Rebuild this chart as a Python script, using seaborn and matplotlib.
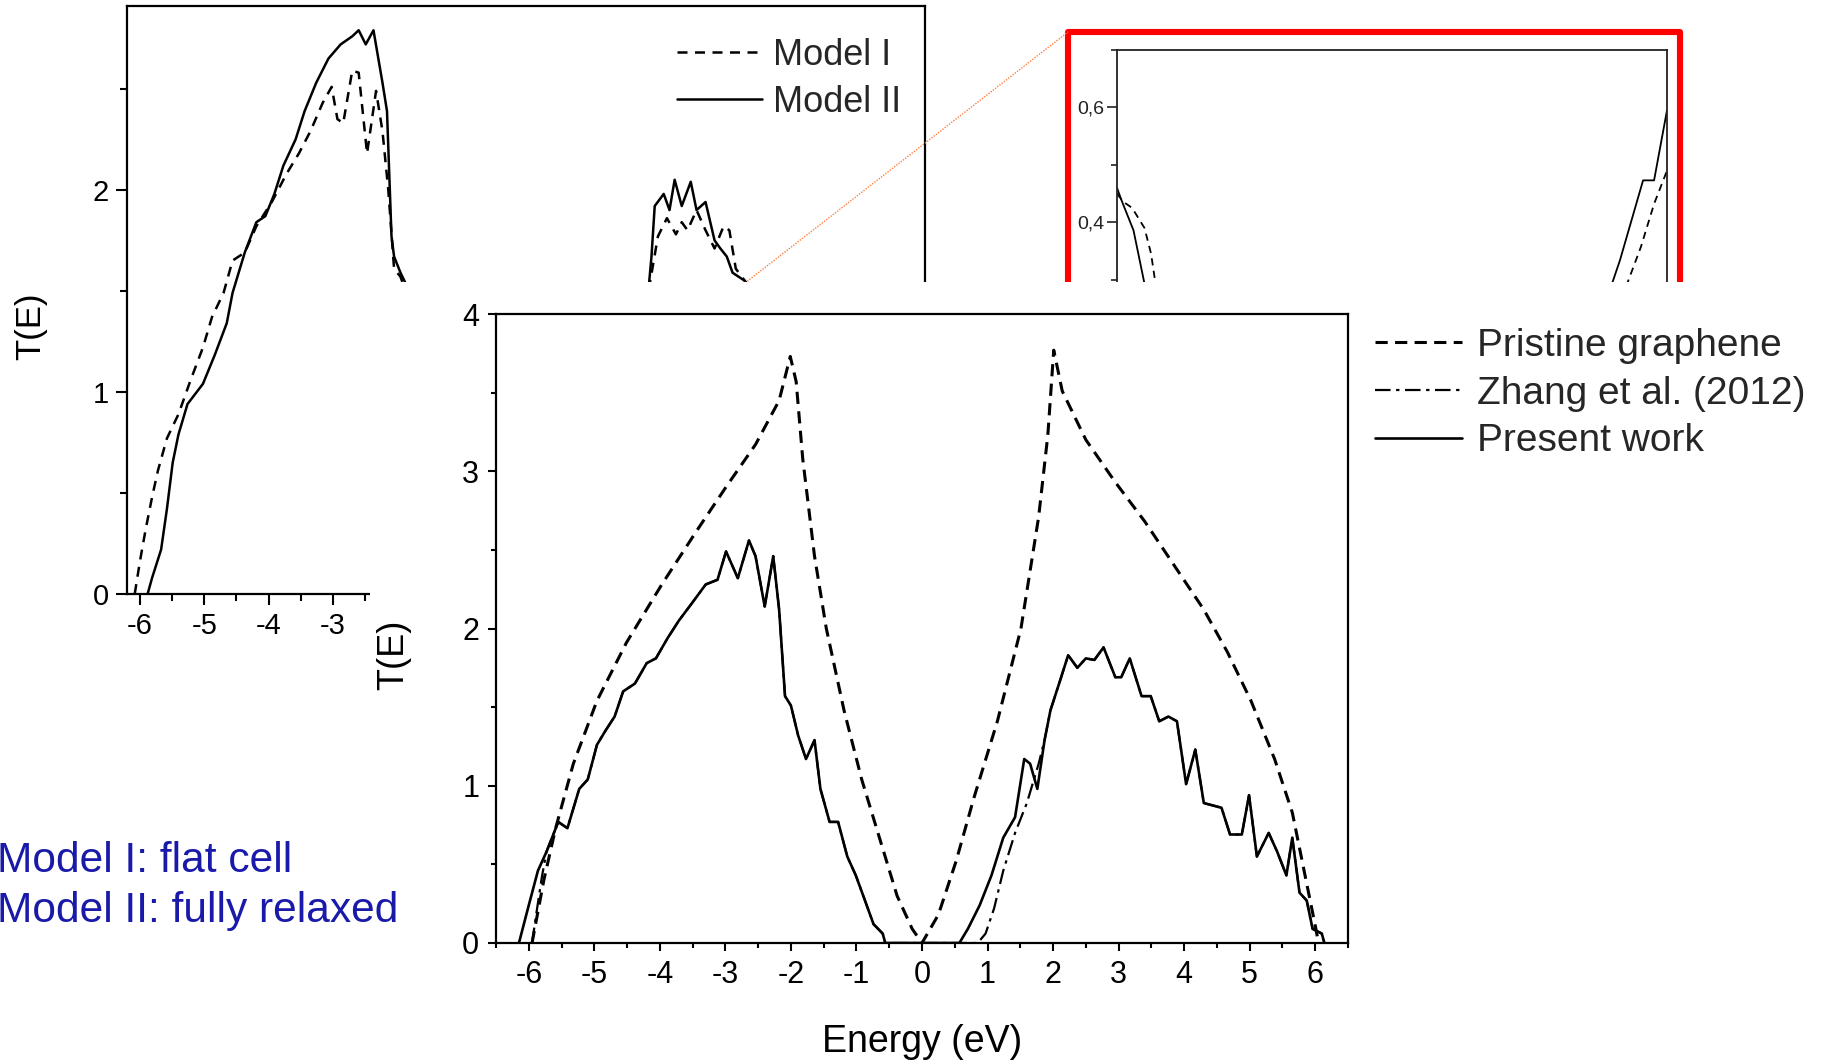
import numpy as np
import pandas as pd
import matplotlib
matplotlib.use("Agg")
import matplotlib.pyplot as plt
from matplotlib.patches import Rectangle
from matplotlib.lines import Line2D
from matplotlib.ticker import MultipleLocator, FuncFormatter
import seaborn as sns

# ---------------- data: front panel (main chart) ----------------
pristine_E = [-5.95, -5.77, -5.59, -5.32, -4.96, -4.51, -3.97, -3.44, -2.99, -2.54, -2.18, -2.01,
              -1.92, -1.82, -1.64, -1.46, -1.19, -0.92, -0.65, -0.38, -0.15, 0.0,
              0.25, 0.52, 0.79, 1.15, 1.51, 1.78, 1.92, 2.01, 2.14, 2.50, 2.95, 3.40, 3.85,
              4.30, 4.66, 5.02, 5.38, 5.65, 5.83, 6.01, 6.05]
pristine_T = [0.0, 0.40, 0.73, 1.14, 1.54, 1.91, 2.28, 2.62, 2.90, 3.17, 3.45, 3.73,
              3.57, 3.08, 2.46, 2.00, 1.48, 1.04, 0.67, 0.30, 0.09, 0.0,
              0.18, 0.52, 0.92, 1.41, 2.00, 2.71, 3.23, 3.77, 3.51, 3.20, 2.93, 2.68, 2.40,
              2.12, 1.85, 1.54, 1.17, 0.83, 0.46, 0.09, 0.0]

present_E = [-6.15, -6.00, -5.86, -5.73, -5.55, -5.41, -5.23, -5.10, -4.96, -4.83, -4.69, -4.56,
             -4.38, -4.20, -4.06, -3.88, -3.71, -3.53, -3.30, -3.12, -2.99, -2.81, -2.64, -2.54,
             -2.40, -2.27, -2.18, -2.09, -2.00, -1.89, -1.77, -1.64, -1.55, -1.41, -1.28, -1.14,
             -1.01, -0.87, -0.74, -0.60, -0.56,
             0.57, 0.70, 0.88, 1.06, 1.24, 1.42, 1.56, 1.65, 1.76, 1.87, 1.96, 2.10, 2.23, 2.37,
             2.50, 2.63, 2.77, 2.95, 3.04, 3.17, 3.35, 3.49, 3.62, 3.76, 3.89, 4.03, 4.17, 4.30,
             4.57, 4.70, 4.88, 4.99, 5.11, 5.29, 5.42, 5.56, 5.65, 5.76, 5.87, 5.96, 6.10, 6.14]
present_T = [0.0, 0.24, 0.46, 0.58, 0.77, 0.73, 0.98, 1.04, 1.26, 1.35, 1.44, 1.60,
             1.65, 1.78, 1.81, 1.94, 2.05, 2.15, 2.28, 2.31, 2.49, 2.32, 2.56, 2.46,
             2.14, 2.46, 2.12, 1.57, 1.51, 1.32, 1.17, 1.29, 0.98, 0.77, 0.77, 0.55,
             0.43, 0.27, 0.12, 0.06, 0.0,
             0.0, 0.09, 0.24, 0.43, 0.67, 0.80, 1.17, 1.14, 0.98, 1.29, 1.48, 1.66, 1.83, 1.75,
             1.81, 1.80, 1.88, 1.69, 1.69, 1.81, 1.57, 1.57, 1.41, 1.44, 1.41, 1.01, 1.23, 0.89,
             0.86, 0.69, 0.69, 0.94, 0.55, 0.70, 0.58, 0.43, 0.67, 0.32, 0.27, 0.09, 0.06, 0.0]

# Zhang et al. (2012): differs from the present work only at the band edges
zhang_left_E = [-5.95, -5.88, -5.80]
zhang_left_T = [0.0, 0.20, 0.42]
zhang_right_E = [0.85, 0.97, 1.10, 1.24, 1.42, 1.60, 1.78, 1.87]
zhang_right_T = [0.0, 0.06, 0.22, 0.46, 0.70, 0.89, 1.14, 1.29]

# ---------------- data: back panel (Model I / Model II) ----------------
model1_E = [-6.08, -6.00, -5.91, -5.81, -5.72, -5.58, -5.40, -5.21, -5.02, -4.88, -4.70, -4.56,
            -4.37, -4.19, -3.95, -3.72, -3.53, -3.35, -3.16, -3.02, -2.93, -2.84, -2.70, -2.60,
            -2.47, -2.33, -2.23, -2.14, -2.05, -1.95, -1.60, -1.20, -0.90, -0.70, -0.50, 0.0,
            0.50, 0.75, 1.00, 1.40, 1.70, 1.91, 2.05, 2.19, 2.33, 2.42, 2.51, 2.65, 2.79, 2.93,
            3.07, 3.16, 3.26, 3.40, 4.00, 4.80, 5.50, 6.05]
model1_T = [0.0, 0.16, 0.32, 0.48, 0.61, 0.77, 0.89, 1.06, 1.22, 1.37, 1.49, 1.65,
            1.69, 1.82, 1.94, 2.08, 2.18, 2.29, 2.43, 2.51, 2.35, 2.33, 2.59, 2.58,
            2.18, 2.49, 2.29, 2.00, 1.61, 1.57, 1.25, 0.90, 0.55, 0.43, 0.20, 0.05,
            0.20, 0.45, 0.65, 0.95, 1.25, 1.51, 1.77, 1.86, 1.78, 1.84, 1.80, 1.90, 1.80, 1.71,
            1.82, 1.80, 1.61, 1.55, 1.20, 0.80, 0.35, 0.0]

model2_E = [-5.88, -5.81, -5.67, -5.58, -5.49, -5.40, -5.26, -5.02, -4.84, -4.65, -4.56, -4.37,
            -4.19, -4.05, -3.91, -3.77, -3.58, -3.44, -3.26, -3.07, -2.88, -2.70, -2.60, -2.49,
            -2.37, -2.23, -2.16, -2.09, -2.05, -1.95, -1.86, -1.60, -1.20, -0.90, -0.70, -0.50,
            0.0, 0.50, 0.75, 1.00, 1.40, 1.70, 1.91, 1.95, 2.00, 2.14, 2.23, 2.31, 2.42, 2.56,
            2.65, 2.79, 2.93, 3.02, 3.12, 3.21, 3.40, 4.00, 4.80, 5.50, 6.00]
model2_T = [0.0, 0.08, 0.22, 0.42, 0.65, 0.79, 0.94, 1.04, 1.18, 1.34, 1.49, 1.69,
            1.84, 1.87, 1.98, 2.12, 2.25, 2.39, 2.53, 2.65, 2.72, 2.76, 2.79, 2.72,
            2.79, 2.53, 2.39, 1.77, 1.67, 1.59, 1.53, 1.30, 0.95, 0.60, 0.45, 0.20,
            0.05, 0.20, 0.50, 0.70, 1.00, 1.30, 1.53, 1.67, 1.92, 1.98, 1.90, 2.05, 1.92, 2.04,
            1.90, 1.94, 1.75, 1.71, 1.67, 1.59, 1.55, 1.25, 0.85, 0.40, 0.0]

# ---------------- data: zoomed inset in red box ----------------
inset1_E = [-1.0, -0.978, -0.945, -0.90, -0.876, -0.86, -0.83, -0.6, -0.3, 0.0, 0.3, 0.6,
            0.80, 0.855, 0.905, 0.953, 1.0]
inset1_T = [0.45, 0.436, 0.425, 0.39, 0.345, 0.293, 0.18, 0.04, 0.01, 0.0, 0.01, 0.06,
            0.18, 0.293, 0.357, 0.432, 0.49]
inset2_E = [-1.0, -0.985, -0.94, -0.90, -0.84, -0.6, -0.3, 0.0, 0.3, 0.6, 0.75,
            0.80, 0.829, 0.913, 0.953, 1.0]
inset2_T = [0.46, 0.44, 0.386, 0.293, 0.18, 0.04, 0.01, 0.0, 0.01, 0.08, 0.20,
            0.293, 0.334, 0.473, 0.473, 0.595]

energy_ticks = [-6, -5, -4, -3, -2, -1, 0, 1, 2, 3, 4, 5, 6]
back_xticks = [-6, -5, -4, -3]          # only these are visible in the picture
front_yticks = [0, 1, 2, 3, 4]
back_yticks = [0, 1, 2]
inset_yticks = [0.2, 0.4, 0.6]

legend_front = ["Pristine graphene", "Zhang et al. (2012)", "Present work"]
legend_back = ["Model I", "Model II"]
notes = ["Model I: flat cell", "Model II: fully relaxed"]

# build Zhang series from read edge values + shared middle values
zhang_E = (zhang_left_E + [e for e in present_E if -5.75 < e <= -0.5]
           + zhang_right_E + [e for e in present_E if e > 1.9])
zhang_T = (zhang_left_T + [t for e, t in zip(present_E, present_T) if -5.75 < e <= -0.5]
           + zhang_right_T + [t for e, t in zip(present_E, present_T) if e > 1.9])

# ---------------- figure ----------------
W, H = 1822, 1063
sns.set_theme(style="white")
plt.rcParams["font.family"] = ["Liberation Sans", "DejaVu Sans"]
plt.rcParams["axes.unicode_minus"] = False

fig = plt.figure(figsize=(W / 100, H / 100), dpi=100)


def box(l, t, r, b):
    return [l / W, 1 - b / H, (r - l) / W, (b - t) / H]


def fx(x):
    return x / W


def fy(y):
    return 1 - y / H


def style_spines(ax, lw, color="black"):
    for s in ax.spines.values():
        s.set_visible(True)
        s.set_color(color)
        s.set_linewidth(lw)


# ---- back panel ----
axb = fig.add_axes(box(127, 6, 925, 594), zorder=0)
sns.lineplot(x=model1_E, y=model1_T, ax=axb, color="black", lw=1.8, sort=False,
             estimator=None, linestyle=(0, (4, 3)), label=legend_back[0])
sns.lineplot(x=model2_E, y=model2_T, ax=axb, color="black", lw=1.8, sort=False,
             estimator=None, label=legend_back[1])
axb.set_xlim(-6.2, 6.2)
axb.set_ylim(0, 2.91)
axb.set_xticks(back_xticks)
axb.set_yticks(back_yticks)
axb.xaxis.set_minor_locator(MultipleLocator(0.5))
axb.yaxis.set_minor_locator(MultipleLocator(0.5))
style_spines(axb, 1.6)
axb.tick_params(axis="both", which="major", direction="out", length=8, width=1.5,
                labelsize=21, pad=5, bottom=True, left=True, top=False, right=False, colors="black")
axb.tick_params(axis="both", which="minor", direction="out", length=5, width=1.5,
                bottom=True, left=True, top=False, right=False, colors="black")
axb.set_xlabel("")
axb.set_ylabel("T(E)", fontsize=25, color="black")
axb.yaxis.set_label_coords((47 - 127) / 798, (594 - 326) / 588)
axb.legend(loc="upper left", bbox_to_anchor=(fx(677), fy(38)), bbox_transform=fig.transFigure,
           frameon=False, fontsize=26, handlelength=2.35, handletextpad=0.3,
           labelspacing=0.32, borderpad=0, borderaxespad=0)

# ---- inset in red box ----
axi = fig.add_axes(box(1117, 50, 1667, 452), zorder=0.5)
sns.lineplot(x=inset1_E, y=inset1_T, ax=axi, color="black", lw=1.3, sort=False,
             estimator=None, linestyle=(0, (4, 3)))
sns.lineplot(x=inset2_E, y=inset2_T, ax=axi, color="black", lw=1.3, sort=False,
             estimator=None)
axi.set_xlim(-1, 1)
axi.set_ylim(0, 0.7)
axi.set_yticks(inset_yticks)
axi.yaxis.set_minor_locator(MultipleLocator(0.1))
axi.yaxis.set_major_formatter(FuncFormatter(lambda v, p: f"{v:.1f}".replace(".", ",")))
axi.set_xticks([])
style_spines(axi, 1.3, "#222222")
axi.tick_params(axis="y", which="major", direction="out", length=7, width=1.2,
                labelsize=14, pad=2, left=True, colors="#222222")
axi.tick_params(axis="y", which="minor", direction="out", length=4, width=1.2, left=True,
                colors="#222222")

red = Rectangle((fx(1068), fy(620)), fx(1680) - fx(1068), fy(32) - fy(620),
                transform=fig.transFigure, fill=False, edgecolor="#ff0000", lw=4.4,
                joinstyle="round", zorder=0.6)
fig.add_artist(red)
fig.add_artist(Line2D([fx(745), fx(1068)], [fy(283), fy(32)], transform=fig.transFigure,
                      color="#ff7f3f", lw=1.0, linestyle=(0, (1, 1)), zorder=0.6))

# ---- white cover separating the two pictures ----
fig.add_artist(Rectangle((fx(370), 0), 1 - fx(370), fy(282), transform=fig.transFigure,
                         facecolor="white", edgecolor="none", zorder=1))

# ---- front panel ----
axf = fig.add_axes(box(496, 314, 1348, 943), zorder=2)
sns.lineplot(x=pristine_E, y=pristine_T, ax=axf, color="black", lw=2.2, sort=False,
             estimator=None, linestyle=(0, (4, 2.4)), label=legend_front[0])
sns.lineplot(x=zhang_E, y=zhang_T, ax=axf, color="black", lw=1.6, sort=False,
             estimator=None, linestyle=(0, (7, 2.5, 1.5, 2.5)), label=legend_front[1])
sns.lineplot(x=present_E, y=present_T, ax=axf, color="black", lw=1.9, sort=False,
             estimator=None, label=legend_front[2])
axf.set_xlim(-6.5, 6.5)
axf.set_ylim(0, 4)
axf.set_xticks(energy_ticks)
axf.set_yticks(front_yticks)
axf.xaxis.set_minor_locator(MultipleLocator(0.5))
axf.yaxis.set_minor_locator(MultipleLocator(0.5))
style_spines(axf, 1.6)
axf.tick_params(axis="both", which="major", direction="out", length=6, width=1.5,
                labelsize=22, pad=6, bottom=True, left=True, top=False, right=False, colors="black")
axf.tick_params(axis="both", which="minor", direction="out", length=3.5, width=1.5,
                bottom=True, left=True, top=False, right=False, colors="black")
axf.set_xlabel("Energy (eV)", fontsize=27, color="black", va="top")
axf.xaxis.set_label_coords(0.5, (943 - 1024) / 629)
axf.set_ylabel("T(E)", fontsize=26, color="black")
axf.yaxis.set_label_coords((411 - 496) / 852, (943 - 655) / 629)
axf.legend(loc="upper left", bbox_to_anchor=(fx(1375), fy(328)), bbox_transform=fig.transFigure,
           frameon=False, fontsize=28, handlelength=2.24, handletextpad=0.39,
           labelspacing=0.3, borderpad=0, borderaxespad=0)

# ---- blue notes ----
fig.text(fx(-3), fy(872), notes[0], fontsize=30.6, color="#1a1aaa", ha="left", va="baseline", zorder=5)
fig.text(fx(-3), fy(922), notes[1], fontsize=30.6, color="#1a1aaa", ha="left", va="baseline", zorder=5)

fig.savefig("out.png", dpi=100, facecolor="white")
